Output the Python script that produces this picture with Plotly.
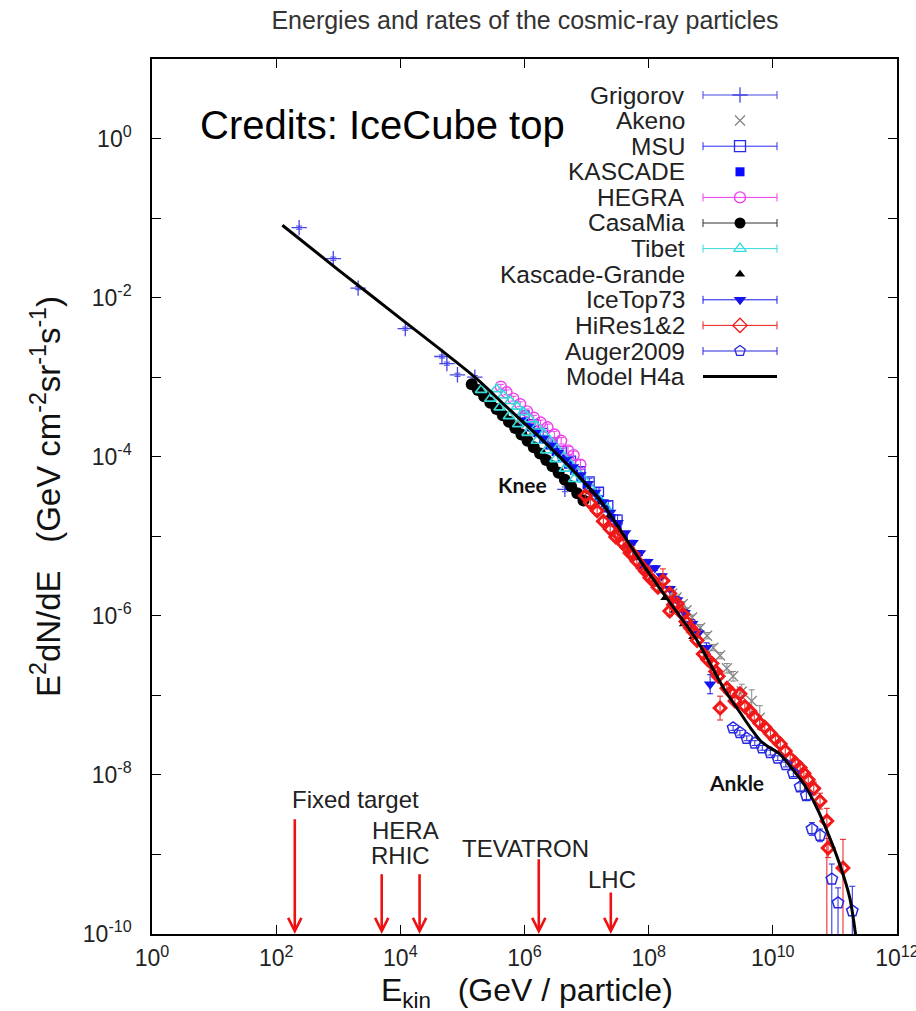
import numpy as np
import plotly.graph_objects as go

# ------------------------------------------------------------------
# Values: log10(E_kin / GeV) and log10(E^2 dN/dE)
# ------------------------------------------------------------------
grig_logE = [2.37, 2.92, 3.32, 4.08, 4.67, 4.75, 4.92, 5.20, 6.65]
grig_logF = [-1.12, -1.51, -1.88, -2.39, -2.74, -2.83, -2.97, -3.00, -4.41]
grig_err = [0.02, 0.02, 0.02, 0.02, 0.02, 0.02, 0.02, 0.02, 0.03]

akeno_logE = [5.90, 6.10, 8.25, 8.38, 8.45, 8.55, 8.61, 8.70, 8.83, 8.94, 9.04, 9.15, 9.26, 9.36, 9.50, 9.66, 9.79]
akeno_logF = [-3.58, -3.70, -5.62, -5.72, -5.77, -5.85, -5.93, -6.02, -6.15, -6.25, -6.40, -6.50, -6.66, -6.76, -6.95, -7.07, -7.28]
akeno_err = [0.02, 0.02, 0.03, 0.03, 0.03, 0.03, 0.03, 0.03, 0.04, 0.04, 0.04, 0.04, 0.06, 0.06, 0.09, 0.14, 0.15]

msu_logE = [6.00, 6.15, 6.30, 6.45, 6.60, 6.75, 6.90, 7.05, 7.20, 7.35, 7.50]
msu_logF = [-3.48, -3.59, -3.70, -3.82, -3.93, -4.05, -4.18, -4.31, -4.44, -4.61, -4.79]
msu_err = [0.03, 0.03, 0.03, 0.03, 0.03, 0.04, 0.04, 0.04, 0.05, 0.05, 0.06]

kascade_logE = [6.00, 6.10, 6.20, 6.30, 6.40, 6.50, 6.60, 6.70, 6.80, 6.90, 7.00, 7.10, 7.20, 7.30, 7.40, 7.50, 7.60, 7.70, 7.80, 7.90]
kascade_logF = [-3.56, -3.63, -3.70, -3.78, -3.86, -3.94, -4.02, -4.10, -4.18, -4.27, -4.36, -4.45, -4.54, -4.65, -4.77, -4.89, -5.01, -5.13, -5.25, -5.37]

hegra_logE = [5.62, 5.71, 5.82, 5.93, 6.04, 6.15, 6.26, 6.37, 6.48, 6.59, 6.70, 6.79, 6.90]
hegra_logF = [-3.12, -3.19, -3.27, -3.34, -3.43, -3.51, -3.57, -3.63, -3.72, -3.80, -3.92, -3.98, -4.10]
hegra_err = [0.03, 0.03, 0.03, 0.03, 0.03, 0.03, 0.03, 0.04, 0.04, 0.04, 0.05, 0.05, 0.06]

casamia_logE = [5.15, 5.25, 5.35, 5.45, 5.55, 5.65, 5.75, 5.85, 5.95, 6.05, 6.15, 6.25, 6.35, 6.45, 6.55, 6.65, 6.75, 6.85, 6.95]
casamia_logF = [-3.09, -3.16, -3.24, -3.32, -3.40, -3.48, -3.56, -3.64, -3.72, -3.80, -3.88, -3.96, -4.04, -4.12, -4.20, -4.29, -4.37, -4.46, -4.55]
casamia_err = [0.02, 0.02, 0.02, 0.02, 0.02, 0.02, 0.02, 0.02, 0.02, 0.02, 0.03, 0.03, 0.03, 0.03, 0.03, 0.03, 0.04, 0.04, 0.04]

tibet_logE = [5.30, 5.45, 5.55, 5.60, 5.66, 5.75, 5.77, 5.88, 5.90, 5.98, 6.05, 6.09, 6.20, 6.20, 6.31, 6.35, 6.41, 6.50,
              6.52, 6.63, 6.65, 6.74, 6.80, 6.85, 6.96, 7.06, 7.19, 7.32]
tibet_logF = [-3.16, -3.27, -3.15, -3.38, -3.23, -3.49, -3.30, -3.37, -3.59, -3.44, -3.70, -3.53, -3.62, -3.80, -3.71, -3.92,
              -3.80, -4.03, -3.90, -4.00, -4.15, -4.09, -4.28, -4.19, -4.29, -4.39, -4.52, -4.64]

kg_logE = [7.05, 7.20, 7.35, 7.50, 7.65, 7.80, 7.95, 8.10, 8.25, 8.40, 8.55, 8.70, 8.85]
kg_logF = [-4.45, -4.58, -4.75, -4.93, -5.10, -5.27, -5.45, -5.61, -5.78, -5.94, -6.11, -6.27, -6.45]

icetop_logE = [6.30, 6.42, 6.54, 6.66, 6.78, 6.90, 7.02, 7.14, 7.26, 7.38, 7.50, 7.62, 7.74, 7.86, 7.98, 8.10, 8.21, 8.34,
               8.46, 8.58, 8.70, 8.80, 8.93, 8.99]
icetop_logF = [-3.77, -3.86, -3.95, -4.04, -4.13, -4.23, -4.34, -4.45, -4.57, -4.70, -4.83, -4.96, -5.08, -5.21, -5.32, -5.40,
               -5.50, -5.66, -5.80, -5.96, -6.10, -6.22, -6.40, -6.86]
icetop_err = [0.02, 0.02, 0.02, 0.02, 0.02, 0.02, 0.02, 0.02, 0.02, 0.02, 0.02, 0.02, 0.03, 0.03, 0.03, 0.03, 0.03, 0.03,
              0.04, 0.04, 0.05, 0.05, 0.06, 0.12]

hires_logE = [6.98, 7.06, 7.17, 7.27, 7.38, 7.47, 7.50, 7.59, 7.65, 7.70, 7.75, 7.81, 7.91, 7.95, 8.02, 8.07, 8.15, 8.23,
              8.34, 8.34, 8.40, 8.46, 8.55, 8.60, 8.67, 8.72, 8.78, 8.88, 8.95, 9.02, 9.08, 9.12, 9.15, 9.26, 9.32, 9.39,
              9.47, 9.55, 9.63, 9.70, 9.79, 9.87, 9.96, 10.04, 10.12, 10.20, 10.28, 10.36, 10.44, 10.50, 10.57, 10.66,
              10.76, 10.87, 10.89, 11.13]
hires_logF = [-4.49, -4.58, -4.68, -4.81, -4.91, -5.01, -4.97, -5.09, -5.14, -5.21, -5.23, -5.31, -5.40, -5.44, -5.52, -5.56,
              -5.64, -5.56, -5.72, -5.94, -5.86, -5.85, -5.98, -6.07, -6.15, -6.20, -6.31, -6.48, -6.55, -6.60, -6.70, -6.76,
              -7.16, -6.91, -6.96, -7.07, -6.98, -7.14, -7.20, -7.27, -7.35, -7.40, -7.48, -7.55, -7.61, -7.70, -7.79, -7.85,
              -7.91, -7.98, -8.06, -8.17, -8.33, -8.58, -8.92, -9.17]
hires_err_up = [0.04, 0.04, 0.04, 0.04, 0.04, 0.04, 0.04, 0.04, 0.04, 0.04, 0.04, 0.04, 0.04, 0.04, 0.04, 0.04, 0.04, 0.15,
                0.04, 0.06, 0.04, 0.04, 0.04, 0.04, 0.04, 0.04, 0.04, 0.04, 0.04, 0.05, 0.05, 0.05, 0.15, 0.05, 0.05, 0.05,
                0.05, 0.05, 0.05, 0.05, 0.05, 0.05, 0.05, 0.05, 0.05, 0.05, 0.05, 0.06, 0.06, 0.06, 0.08, 0.08,
                0.10, 0.16, 0.12, 0.36]
hires_err_dn = [0.04, 0.04, 0.04, 0.04, 0.04, 0.04, 0.04, 0.04, 0.04, 0.04, 0.04, 0.04, 0.04, 0.04, 0.04, 0.04, 0.04, 0.15,
                0.04, 0.06, 0.04, 0.04, 0.04, 0.04, 0.04, 0.04, 0.04, 0.04, 0.04, 0.05, 0.05, 0.05, 0.15, 0.05, 0.05, 0.05,
                0.05, 0.05, 0.05, 0.05, 0.05, 0.05, 0.05, 0.05, 0.05, 0.05, 0.05, 0.06, 0.06, 0.06, 0.08, 0.08,
                0.10, 2.00, 0.12, 2.00]

auger_logE = [9.36, 9.47, 9.58, 9.71, 9.83, 9.96, 10.08, 10.21, 10.33, 10.44, 10.54, 10.63, 10.76, 10.95, 11.05, 11.28]
auger_logF = [-7.41, -7.47, -7.54, -7.60, -7.66, -7.72, -7.79, -7.87, -7.98, -8.15, -8.26, -8.68, -8.76, -9.31, -9.61, -9.71]
auger_err_up = [0.03, 0.03, 0.03, 0.03, 0.03, 0.03, 0.03, 0.03, 0.04, 0.05, 0.05, 0.08, 0.08, 0.19, 0.19, 0.31]
auger_err_dn = [0.03, 0.03, 0.03, 0.03, 0.03, 0.03, 0.03, 0.03, 0.04, 0.05, 0.05, 0.08, 0.08, 2.00, 2.00, 2.00]

model_logE = [2.10, 3.00, 4.00, 5.20, 5.72, 6.25, 6.78, 7.22, 7.86, 8.33, 8.78, 9.20, 9.45, 9.65, 9.80, 9.95, 10.10,
              10.33, 10.52, 10.70, 10.87, 11.08, 11.24, 11.335]
model_logF = [-1.09, -1.65, -2.26, -3.00, -3.38, -3.76, -4.17, -4.55, -5.30, -5.82, -6.31, -6.90, -7.19, -7.42, -7.57,
              -7.66, -7.73, -7.94, -8.14, -8.40, -8.70, -9.13, -9.55, -10.02]

acc_names = ["Fixed target", "HERA", "RHIC", "TEVATRON", "LHC"]
acc_logE = [2.30, 3.70, 4.31, 6.23, 7.39]

x_tick_exp = [0, 2, 4, 6, 8, 10, 12]
y_tick_exp = [-10, -9, -8, -7, -6, -5, -4, -3, -2, -1, 0]

legend_names = ["Grigorov", "Akeno", "MSU", "KASCADE", "HEGRA", "CasaMia", "Tibet",
                "Kascade-Grande", "IceTop73", "HiRes1&amp;2", "Auger2009", "Model H4a"]

# ------------------------------------------------------------------
FONT = "Liberation Sans, Arial, Helvetica, sans-serif"


def p10(v):
    return np.power(10.0, np.asarray(v, dtype=float))


def errbars(logF, up, dn):
    y = p10(logF)
    return p10(np.asarray(logF) + np.asarray(up)) - y, y - p10(np.asarray(logF) - np.asarray(dn))


fig = go.Figure()


def add_series(logE, logF, symbol, color, size, lw=1.2, err_up=None, err_dn=None, ecolor=None):
    kw = {}
    if err_up is not None:
        if err_dn is None:
            err_dn = err_up
        eu, ed = errbars(logF, err_up, err_dn)
        kw["error_y"] = dict(type="data", symmetric=False, array=eu, arrayminus=ed,
                             color=ecolor or color, thickness=1, width=3)
    marker = dict(symbol=symbol, size=size, color=color, line=dict(color=color, width=lw))
    fig.add_trace(go.Scatter(x=p10(logE), y=p10(logF), mode="markers", marker=marker,
                             showlegend=False, hoverinfo="skip", **kw))


C_GRIG = "#4646e6"
C_AKENO = "#888888"
C_MSU = "#2a2aee"
C_KAS = "#0a0aff"
C_HEGRA = "#ee3cee"
C_CASA = "#000000"
C_TIBET = "#35dada"
C_KG = "#000000"
C_ICE = "#1414ee"
C_HIRES = "#f01818"
C_AUGER = "#2828e0"

add_series(grig_logE, grig_logF, "cross-thin", C_GRIG, 11, 1.3, grig_err)
add_series(akeno_logE, akeno_logF, "x-thin", C_AKENO, 10, 1.4, akeno_err)
add_series(msu_logE, msu_logF, "square-open", C_MSU, 9, 1.3, msu_err)
add_series(kascade_logE, kascade_logF, "square", C_KAS, 8, 0)
add_series(hegra_logE, hegra_logF, "circle-open", C_HEGRA, 11, 1.4, hegra_err)
add_series(casamia_logE, casamia_logF, "circle", C_CASA, 12, 0, casamia_err, ecolor="#333333")
add_series(tibet_logE, tibet_logF, "triangle-up-open", C_TIBET, 10, 1.6)
add_series(kg_logE, kg_logF, "triangle-up", C_KG, 7, 0)
add_series(icetop_logE, icetop_logF, "triangle-down", C_ICE, 11, 0, icetop_err)
add_series(hires_logE, hires_logF, "diamond-open", C_HIRES, 9, 3.0, hires_err_up, hires_err_dn)
add_series(auger_logE, auger_logF, "pentagon-open", C_AUGER, 12, 1.5, auger_err_up, auger_err_dn)

fig.add_trace(go.Scatter(x=p10(model_logE), y=p10(model_logF), mode="lines",
                         line=dict(color="black", width=3, shape="spline", smoothing=0.8),
                         showlegend=False, hoverinfo="skip"))

# ------------------------------------------------------------------
# Manual gnuplot-style legend (text on the left, sample on the right)
# ------------------------------------------------------------------
plot_l, plot_r, plot_t, plot_b = 152, 897, 59, 934
pw, ph = plot_r - plot_l, plot_b - plot_t


def px2paper_x(px):
    return (px - plot_l) / pw


def px2paper_y(py):
    return (plot_b - py) / ph


leg_text_x = px2paper_x(687)
leg_sym_x = px2paper_x(740)
leg_half = 37 / pw
leg_styles = [
    dict(symbol="cross-thin", color=C_GRIG, size=11, lw=1.3, err=True),
    dict(symbol="x-thin", color=C_AKENO, size=10, lw=1.4, err=False),
    dict(symbol="square-open", color=C_MSU, size=11, lw=1.3, err=True),
    dict(symbol="square", color=C_KAS, size=9, lw=0, err=False),
    dict(symbol="circle-open", color=C_HEGRA, size=11, lw=1.3, err=True),
    dict(symbol="circle", color=C_CASA, size=11, lw=0, err=True, ecolor="#333333"),
    dict(symbol="triangle-up-open", color=C_TIBET, size=11, lw=1.3, err=True),
    dict(symbol="triangle-up", color=C_KG, size=9, lw=0, err=False),
    dict(symbol="triangle-down", color=C_ICE, size=11, lw=0, err=True),
    dict(symbol="diamond-open", color=C_HIRES, size=11, lw=1.3, err=True),
    dict(symbol="pentagon-open", color=C_AUGER, size=11, lw=1.3, err=True),
    None,
]

for i, name in enumerate(legend_names):
    yy = px2paper_y(95 + 25.6 * i)
    fig.add_annotation(xref="paper", yref="paper", x=leg_text_x, y=yy, xanchor="right", yanchor="middle",
                       text=name, showarrow=False, font=dict(family=FONT, size=24.5, color="#222222"))
    st = leg_styles[i]
    if st is None:
        fig.add_trace(go.Scatter(x=[leg_sym_x - leg_half, leg_sym_x + leg_half], y=[yy, yy], mode="lines",
                                 line=dict(color="black", width=3), xaxis="x2", yaxis="y2",
                                 showlegend=False, hoverinfo="skip"))
        continue
    kw = {}
    if st["err"]:
        kw["error_x"] = dict(type="constant", value=leg_half, color=st.get("ecolor", st["color"]),
                             thickness=1, width=4)
    fig.add_trace(go.Scatter(x=[leg_sym_x], y=[yy], mode="markers", xaxis="x2", yaxis="y2",
                             marker=dict(symbol=st["symbol"], size=st["size"], color=st["color"],
                                         line=dict(color=st["color"], width=st["lw"])),
                             showlegend=False, hoverinfo="skip", **kw))

# ------------------------------------------------------------------
# Accelerator arrows and labels
# ------------------------------------------------------------------
arrow_top = [-8.54, -9.23, -9.23, -9.04, -9.46]
label_pos = [(3.27, -8.31), (4.09, -8.70), (3.995, -9.01), (6.01, -8.93), (7.41, -9.31)]
for name, lx, top, (tx, ty) in zip(acc_names, acc_logE, arrow_top, label_pos):
    fig.add_annotation(x=lx, y=-10.0, ax=lx, ay=top, xref="x", yref="y", axref="x", ayref="y",
                       showarrow=True, arrowhead=5, arrowsize=1.0, arrowwidth=2.6, arrowcolor="#ee1111",
                       standoff=0, text="")
    fig.add_annotation(x=tx, y=ty, xref="x", yref="y", text=name, showarrow=False,
                       font=dict(family=FONT, size=24, color="#222222"))

fig.add_annotation(x=5.965, y=-4.35, xref="x", yref="y", text="<b>Knee</b>", showarrow=False,
                   font=dict(family="Lato, Open Sans, sans-serif", size=21, color="#111111"))
fig.add_annotation(x=9.41, y=-8.10, xref="x", yref="y", text="<b>Ankle</b>", showarrow=False,
                   font=dict(family="Lato, Open Sans, sans-serif", size=21, color="#111111"))

fig.add_annotation(xref="paper", yref="paper", x=px2paper_x(382), y=px2paper_y(125), xanchor="center",
                   yanchor="middle", text="Credits: IceCube top", showarrow=False,
                   font=dict(family=FONT, size=40, color="black"))

# x-axis title placed explicitly below the tick labels
fig.add_annotation(xref="paper", yref="paper", x=px2paper_x(527), y=px2paper_y(992), xanchor="center",
                   yanchor="middle", text="E<sub>kin</sub>\u00a0\u00a0\u00a0(GeV / particle)", showarrow=False,
                   font=dict(family=FONT, size=32, color="#111111"))

# ------------------------------------------------------------------
xt_vals = [10.0 ** e for e in x_tick_exp]
xt_text = ["10<sup>%d</sup>" % e for e in x_tick_exp]
yt_vals = [10.0 ** e for e in y_tick_exp]
yt_text = [("10<sup>%d</sup>" % e) if e % 2 == 0 else "" for e in y_tick_exp]

axis_common = dict(type="log", showgrid=False, zeroline=False, showline=True, linecolor="black", linewidth=1.5,
                   mirror="ticks", ticks="inside", ticklen=9, tickwidth=1.3, tickcolor="black",
                   ticklabeloverflow="allow", automargin=False,
                   tickfont=dict(family=FONT, size=23, color="#222222"))

fig.update_layout(
    width=916, height=1011,
    margin=dict(l=plot_l, r=916 - plot_r, t=plot_t, b=1011 - plot_b, autoexpand=False),
    paper_bgcolor="white", plot_bgcolor="white",
    title=dict(text="Energies and rates of the cosmic-ray particles", x=525 / 916, xanchor="center",
               y=1 - 20 / 1011, yanchor="middle", font=dict(family=FONT, size=25, color="#333333")),
    xaxis=dict(range=[0, 12], tickvals=xt_vals, ticktext=xt_text,
               ticklabelstandoff=3, **axis_common),
    yaxis=dict(range=[-10, 1], tickvals=yt_vals, ticktext=yt_text,
               title=dict(text="E<sup>2</sup>dN/dE\u00a0\u00a0\u00a0(GeV cm<sup>-2</sup>sr<sup>-1</sup>s<sup>-1</sup>)",
                          font=dict(family=FONT, size=33, color="#111111"), standoff=12),
               ticklabelstandoff=14, **axis_common),
    xaxis2=dict(overlaying="x", range=[0, 1], visible=False, fixedrange=True),
    yaxis2=dict(overlaying="y", range=[0, 1], visible=False, fixedrange=True),
    showlegend=False,
)

fig.write_html("out.html")
